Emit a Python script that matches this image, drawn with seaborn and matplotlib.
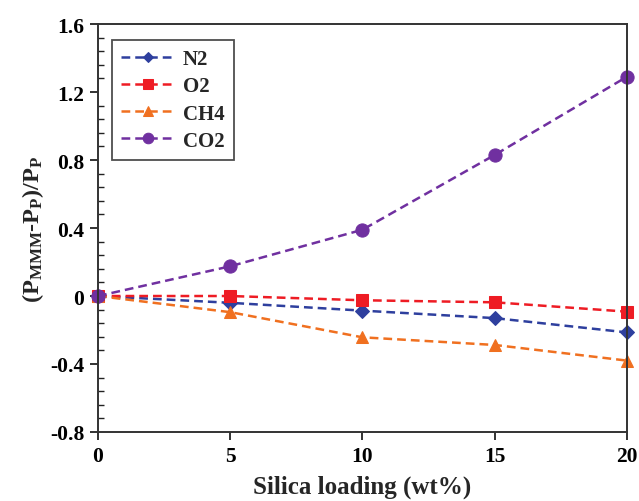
import matplotlib
matplotlib.use("Agg")
import matplotlib.pyplot as plt
import seaborn as sns
import pandas as pd
from matplotlib.ticker import MultipleLocator

sns.set_style("ticks")
plt.rcParams['font.family'] = ['Liberation Serif', 'DejaVu Serif']
plt.rcParams['mathtext.fontset'] = 'custom'
plt.rcParams['mathtext.rm'] = 'Liberation Serif:bold'
plt.rcParams['mathtext.it'] = 'Liberation Serif:bold'
plt.rcParams['mathtext.bf'] = 'Liberation Serif:bold'

loading = [0, 5, 10, 15, 20]
n2 = [0.0, -0.04, -0.086, -0.13, -0.214]
o2 = [0.0, 0.0, -0.025, -0.037, -0.092]
ch4 = [0.0, -0.095, -0.243, -0.288, -0.38]
co2 = [0.0, 0.175, 0.39, 0.83, 1.29]
series_names = ["N2", "O2", "CH4", "CO2"]
xticks = [0, 5, 10, 15, 20]
yticks = [-0.8, -0.4, 0, 0.4, 0.8, 1.2, 1.6]
ytick_labels = ["-0.8", "-0.4", "0", "0.4", "0.8", "1.2", "1.6"]

colors = ["#2e3f9e", "#ee1c24", "#f07020", "#7030a0"]
markers = ["D", "s", "^", "o"]
msizes = [7, 8.5, 9, 9.5]

df = pd.DataFrame({
    "loading": loading * 4,
    "value": n2 + o2 + ch4 + co2,
    "gas": sum([[n] * len(loading) for n in series_names], []),
})

fig = plt.figure(figsize=(6.39, 5.02), dpi=100)
ax = fig.add_axes([0.1534, 0.1375, 0.8276, 0.8125])

for name, c, m, ms in zip(series_names, colors, markers, msizes):
    sub = df[df["gas"] == name]
    sns.lineplot(data=sub, x="loading", y="value", ax=ax, color=c, marker=m,
                 markersize=ms, markeredgecolor=c, linewidth=1.8,
                 linestyle=(0, (3.5, 2)), label=name, clip_on=False,
                 errorbar=None)

ax.set_xlim(0, 20)
ax.set_ylim(-0.8, 1.6)
ax.set_xticks(xticks)
ax.set_xticklabels([str(t) for t in xticks], fontsize=15.5, fontweight='bold')
ax.set_yticks(yticks)
ax.set_yticklabels(ytick_labels, fontsize=15.5, fontweight='bold')
ax.yaxis.set_minor_locator(MultipleLocator(0.08))
ax.tick_params(axis='both', which='major', direction='out', length=6, width=1.3, colors='#222222', pad=4)
ax.tick_params(axis='y', which='minor', direction='in', length=4, width=1.0, colors='#222222')
for lab in ax.get_xticklabels() + ax.get_yticklabels():
    lab.set_color('black')
for sp in ax.spines.values():
    sp.set_visible(True)
    sp.set_color('#333333')
    sp.set_linewidth(1.4)

ax.set_xlabel("Silica loading (wt%)", fontsize=18, fontweight='bold', labelpad=6)
ax.set_ylabel(r"(P$_{\mathrm{MMM}}$-P$_{\mathrm{P}}$)/P$_{\mathrm{P}}$", fontsize=17.5, fontweight='bold', labelpad=3)

leg = ax.legend(loc='upper left', bbox_to_anchor=(0.0265, 0.961), borderaxespad=0,
                fontsize=15, frameon=True, fancybox=False, edgecolor='#222222',
                handlelength=2.6, labelspacing=0.34, borderpad=0.45, handletextpad=0.35,
                markerscale=0.8)
leg.get_frame().set_linewidth(1.3)
for t in leg.get_texts():
    t.set_fontweight('bold')

fig.savefig("out.png", dpi=100)
